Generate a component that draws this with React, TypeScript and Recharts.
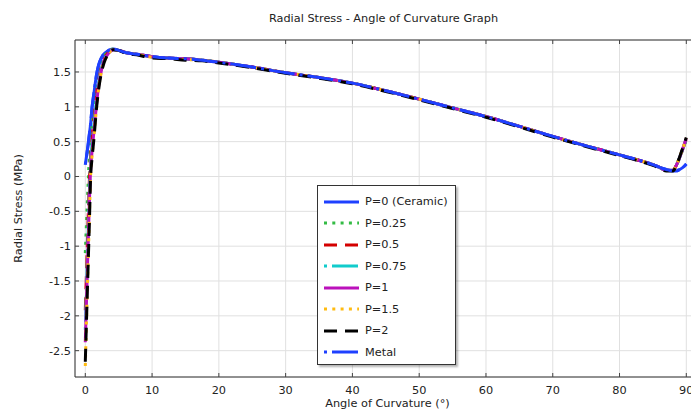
import React from "react";
import {
  CartesianGrid,
  Legend,
  Line,
  LineChart,
  ReferenceLine,
  XAxis,
  YAxis,
} from "recharts";

// angle of curvature (deg)
const angles = [
  0, 0.2, 0.4, 0.6, 0.8, 1.0, 1.3, 1.7, 2.0, 2.4, 2.8, 3.2, 3.7, 4.2, 5, 6,
  8, 10, 12.5, 15, 17.5, 20, 25, 30, 35, 40, 45, 50, 55, 60, 65, 70, 75, 80,
  83, 85, 86, 87, 88, 88.5, 89, 89.5, 90,
];

// radial stress (MPa) per grading index
const ceramic = [
  0.17, 0.3, 0.44, 0.6, 0.76, 0.98, 1.2, 1.47, 1.6, 1.7, 1.76, 1.79, 1.82, 1.83, 1.81, 1.78,
  1.75, 1.72, 1.7, 1.69, 1.67, 1.64, 1.57, 1.49, 1.42, 1.34, 1.23, 1.11, 0.985, 0.86, 0.72,
  0.575, 0.44, 0.31, 0.23, 0.17, 0.13, 0.1, 0.08, 0.08, 0.1, 0.13, 0.18,
];
const p025 = [
  -1.1, -0.62, -0.15, 0.25, 0.5, 0.72, 1.0, 1.32, 1.5, 1.64, 1.72, 1.77, 1.81, 1.83, 1.81, 1.78,
  1.75, 1.72, 1.7, 1.69, 1.67, 1.64, 1.57, 1.49, 1.42, 1.34, 1.23, 1.11, 0.985, 0.86, 0.72,
  0.575, 0.44, 0.31, 0.23, 0.17, 0.13, 0.09, 0.09, 0.16, 0.27, 0.4, 0.53,
];
const p05 = [
  -1.92, -1.3, -0.68, -0.08, 0.3, 0.55, 0.85, 1.2, 1.4, 1.58, 1.69, 1.75, 1.8, 1.82, 1.81, 1.78,
  1.75, 1.72, 1.7, 1.69, 1.67, 1.64, 1.57, 1.49, 1.42, 1.34, 1.23, 1.11, 0.985, 0.86, 0.72,
  0.575, 0.44, 0.31, 0.23, 0.17, 0.13, 0.09, 0.09, 0.16, 0.27, 0.4, 0.54,
];
const p075 = [
  -2.2, -1.55, -0.9, -0.25, 0.2, 0.45, 0.75, 1.12, 1.35, 1.55, 1.67, 1.74, 1.8, 1.82, 1.81, 1.78,
  1.75, 1.72, 1.7, 1.69, 1.67, 1.64, 1.57, 1.49, 1.42, 1.34, 1.23, 1.11, 0.985, 0.86, 0.72,
  0.575, 0.44, 0.31, 0.23, 0.17, 0.13, 0.09, 0.09, 0.16, 0.27, 0.4, 0.54,
];
const p1 = [
  -2.38, -1.72, -1.05, -0.4, 0.1, 0.35, 0.65, 1.05, 1.3, 1.52, 1.66, 1.73, 1.79, 1.82, 1.81, 1.78,
  1.75, 1.72, 1.7, 1.69, 1.67, 1.64, 1.57, 1.49, 1.42, 1.34, 1.23, 1.11, 0.985, 0.86, 0.72,
  0.575, 0.44, 0.31, 0.23, 0.17, 0.13, 0.09, 0.09, 0.16, 0.27, 0.41, 0.55,
];
const p15 = [
  -2.72, -2.0, -1.3, -0.62, 0.02, 0.28, 0.58, 1.0, 1.26, 1.5, 1.64, 1.72, 1.79, 1.82, 1.81, 1.78,
  1.75, 1.71, 1.7, 1.68, 1.67, 1.64, 1.57, 1.49, 1.42, 1.34, 1.23, 1.11, 0.98, 0.86, 0.72,
  0.57, 0.44, 0.31, 0.23, 0.17, 0.13, 0.09, 0.09, 0.16, 0.28, 0.41, 0.55,
];
const p2 = [
  -2.66, -2.0, -1.35, -0.7, 0.0, 0.25, 0.55, 1.0, 1.25, 1.48, 1.63, 1.72, 1.79, 1.82, 1.81, 1.77,
  1.74, 1.7, 1.69, 1.67, 1.66, 1.63, 1.56, 1.48, 1.41, 1.33, 1.22, 1.1, 0.975, 0.85, 0.71,
  0.565, 0.43, 0.3, 0.22, 0.16, 0.12, 0.08, 0.08, 0.16, 0.28, 0.42, 0.56,
];
const metal = [
  0.17, 0.3, 0.44, 0.6, 0.76, 0.98, 1.2, 1.47, 1.6, 1.7, 1.76, 1.79, 1.82, 1.83, 1.81, 1.78,
  1.75, 1.72, 1.7, 1.69, 1.67, 1.64, 1.57, 1.49, 1.42, 1.34, 1.23, 1.11, 0.985, 0.86, 0.72,
  0.575, 0.44, 0.31, 0.23, 0.17, 0.13, 0.1, 0.08, 0.08, 0.1, 0.13, 0.18,
];

const xTicks = [0, 10, 20, 30, 40, 50, 60, 70, 80, 90];
const yTicks = [-2.5, -2, -1.5, -1, -0.5, 0, 0.5, 1, 1.5];

const series = [
  { key: "p0", name: "P=0 (Ceramic)", values: ceramic, color: "#1e40ff", dash: undefined },
  { key: "p025", name: "P=0.25", values: p025, color: "#33bb44", dash: "3 5.3" },
  { key: "p05", name: "P=0.5", values: p05, color: "#d40000", dash: "13 8" },
  { key: "p075", name: "P=0.75", values: p075, color: "#11cccc", dash: "3 5 26 5" },
  { key: "p1", name: "P=1", values: p1, color: "#bb11bb", dash: undefined },
  { key: "p15", name: "P=1.5", values: p15, color: "#ffbb11", dash: "3 5.3" },
  { key: "p2", name: "P=2", values: p2, color: "#000000", dash: "13 8" },
  { key: "metal", name: "Metal", values: metal, color: "#1e40ff", dash: "3 5 26 5" },
];

const data = angles.map((x, i) => {
  const row: Record<string, number> = { x };
  series.forEach((s) => {
    row[s.key] = s.values[i];
  });
  return row;
});

const FONT = "'DejaVu Sans', sans-serif";
const FS = 11.3;
const PLOT_TOP = 40;
const PLOT_BOTTOM = 377;
const PLOT_LEFT = 75;
const X_MIN = -1.542;
const X_MAX = 92.05;
const Y_MIN = -2.878;
const Y_MAX = 1.959;

function XTick(props: any) {
  const { x, y, payload } = props;
  return (
    <g>
      <line x1={x} x2={x} y1={PLOT_BOTTOM} y2={PLOT_BOTTOM - 4} stroke="#444" />
      <line x1={x} x2={x} y1={PLOT_TOP} y2={PLOT_TOP + 4} stroke="#444" />
      <text x={x} y={y} dy="0.71em" textAnchor="middle" fontSize={FS} fontFamily={FONT} fill="#222">
        {payload.value}
      </text>
    </g>
  );
}

function YTick(props: any) {
  const { x, y, payload } = props;
  return (
    <g>
      <line x1={PLOT_LEFT} x2={PLOT_LEFT + 4} y1={y} y2={y} stroke="#444" />
      <text x={x} y={y} dy="0.355em" textAnchor="end" fontSize={FS} fontFamily={FONT} fill="#222">
        {payload.value}
      </text>
    </g>
  );
}

function LegendBox() {
  return (
    <div
      style={{
        width: 139,
        height: 180,
        boxSizing: "border-box",
        border: "1px solid #333",
        background: "#fff",
        boxShadow: "2px 2px 2px rgba(0,0,0,0.3)",
        paddingTop: 5,
        fontFamily: FONT,
        fontSize: FS,
        color: "#222",
      }}
    >
      {series.map((s) => (
        <div key={s.key} style={{ display: "flex", alignItems: "center", height: 21.5, paddingLeft: 6 }}>
          <svg width={35} height={6} style={{ display: "block" }}>
            <line x1={0} x2={35} y1={3} y2={3} stroke={s.color} strokeWidth={3} strokeDasharray={s.dash} />
          </svg>
          <span style={{ marginLeft: 6, whiteSpace: "nowrap" }}>{s.name}</span>
        </div>
      ))}
    </div>
  );
}

export default function App() {
  return (
    <div
      style={{
        position: "absolute",
        left: 0,
        top: 0,
        width: 691,
        height: 412,
        overflow: "hidden",
        background: "#fff",
        fontFamily: FONT,
      }}
    >
      <div
        style={{
          position: "absolute",
          left: PLOT_LEFT,
          top: 12,
          width: 617,
          textAlign: "center",
          fontSize: FS,
          lineHeight: "14px",
          color: "#222",
          zIndex: 2,
        }}
      >
        Radial Stress - Angle of Curvature Graph
      </div>
      <LineChart width={700} height={412} data={data} margin={{ top: PLOT_TOP, right: 0, left: 0, bottom: 0 }}>
        <CartesianGrid stroke="#e0e0e0" />
        <XAxis
          dataKey="x"
          type="number"
          domain={[X_MIN, X_MAX]}
          ticks={xTicks}
          allowDataOverflow
          height={35}
          tickSize={0}
          tickMargin={9}
          tickLine={false}
          tick={<XTick />}
          axisLine={{ stroke: "#333" }}
          label={{
            value: "Angle of Curvature (°)",
            position: "insideBottom",
            offset: 5,
            style: { fontSize: FS, fontFamily: FONT, fill: "#222" },
          }}
        />
        <YAxis
          type="number"
          domain={[Y_MIN, Y_MAX]}
          ticks={yTicks}
          allowDataOverflow
          width={PLOT_LEFT}
          tickSize={0}
          tickMargin={4}
          tickLine={false}
          tick={<YTick />}
          axisLine={{ stroke: "#333" }}
          label={{
            value: "Radial Stress (MPa)",
            angle: -90,
            position: "insideLeft",
            offset: 18,
            style: { fontSize: FS, fontFamily: FONT, fill: "#222", textAnchor: "middle" },
          }}
        />
        <ReferenceLine y={Y_MAX} stroke="#333" />
        {series.map((s) => (
          <Line
            key={s.key}
            dataKey={s.key}
            name={s.name}
            type="monotone"
            stroke={s.color}
            strokeWidth={3}
            strokeDasharray={s.dash}
            dot={false}
            activeDot={false}
            isAnimationActive={false}
          />
        ))}
        <Legend
          layout="vertical"
          align="center"
          verticalAlign="middle"
          content={() => <LegendBox />}
          wrapperStyle={{ left: 317, top: 185, width: 139, height: 180 }}
        />
      </LineChart>
    </div>
  );
}
